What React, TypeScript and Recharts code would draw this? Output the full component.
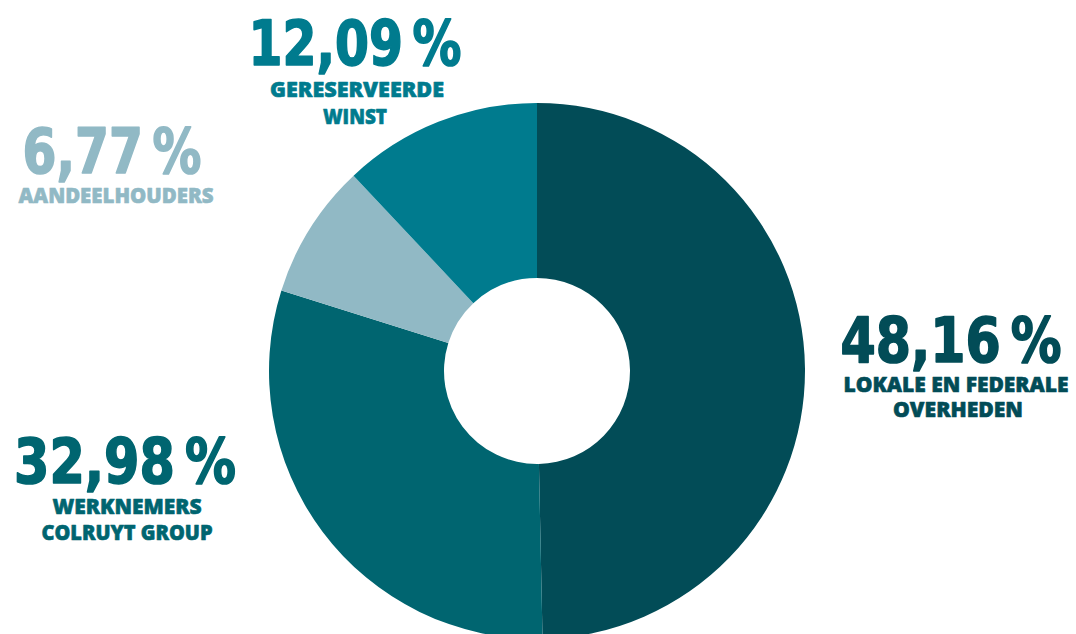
import React from 'react';
import { PieChart, Pie, Cell } from 'recharts';

// waarden uit de grafiek
const categories = [
  'Lokale en federale overheden',
  'Werknemers Colruyt Group',
  'Aandeelhouders',
  'Gereserveerde winst',
];
// percentages zoals ze in de labels staan
const shares = [48.16, 32.98, 6.77, 12.09];
// grootte van de segmenten zoals ze in de figuur getekend zijn
const sliceValues = [49.67, 30.19, 8.14, 12.0];
const labelLines = [
  ['LOKALE EN FEDERALE', 'OVERHEDEN'],
  ['WERKNEMERS', 'COLRUYT GROUP'],
  ['AANDEELHOUDERS'],
  ['GERESERVEERDE', 'WINST'],
];
const colors = ['#024c57', '#006570', '#91b9c5', '#007b8e'];

// plaatsing van de labels t.o.v. het middelpunt
const labelLayout = [
  { x: 414, y: -9, w: 223, lines: [{ x: 419, y: 21, w: 225 }, { x: 421, y: 46, w: 130 }] },
  { x: -412, y: 112, w: 224, lines: [{ x: -410, y: 143, w: 149 }, { x: -410, y: 169, w: 171 }] },
  { x: -425, y: -198, w: 181, lines: [{ x: -421, y: -168, w: 195 }] },
  { x: -182, y: -306, w: 215, lines: [{ x: -180, y: -274, w: 174 }, { x: -182, y: -247, w: 64 }] },
];

const data = categories.map((name, i) => ({ name, value: sliceValues[i], share: shares[i] }));

const numFont = '"DejaVu Sans Condensed", "DejaVu Sans", sans-serif';
const txtFont = '"Open Sans", "DejaVu Sans Condensed", sans-serif';

const fmt = (v: number) => v.toFixed(2).replace('.', ',') + '\u2009%';

const renderLabel = (props: any) => {
  const { cx, cy, index } = props;
  const l = labelLayout[index];
  const color = colors[index];
  return (
    <g key={`lbl-${index}`}>
      <text
        x={cx + l.x}
        y={cy + l.y}
        textAnchor="middle"
        fill={color}
        stroke={color}
        strokeWidth={1.6}
        strokeLinejoin="round"
        fontFamily={numFont}
        fontWeight={700}
        fontSize={63}
        textLength={l.w - 2}
        lengthAdjust="spacingAndGlyphs"
      >
        {fmt(shares[index])}
      </text>
      {labelLines[index].map((t, j) => (
        <text
          key={j}
          x={cx + l.lines[j].x}
          y={cy + l.lines[j].y}
          textAnchor="middle"
          fill={color}
          stroke={color}
          strokeWidth={0.6}
          strokeLinejoin="round"
          fontFamily={txtFont}
          fontWeight={800}
          fontSize={21}
          textLength={l.lines[j].w}
          lengthAdjust="spacingAndGlyphs"
        >
          {t}
        </text>
      ))}
    </g>
  );
};

export default function App() {
  return (
    <div style={{ position: 'absolute', left: 0, top: 0, background: '#fff' }}>
      <PieChart width={1076} height={634} margin={{ top: 0, right: 0, bottom: 0, left: 0 }}>
        <Pie
          data={data}
          dataKey="value"
          nameKey="name"
          cx={537}
          cy={371}
          innerRadius={93}
          outerRadius={268}
          startAngle={90}
          endAngle={-270}
          stroke="none"
          label={renderLabel}
          labelLine={false}
          isAnimationActive={false}
        >
          {data.map((d, i) => (
            <Cell key={d.name} fill={colors[i]} />
          ))}
        </Pie>
      </PieChart>
    </div>
  );
}
